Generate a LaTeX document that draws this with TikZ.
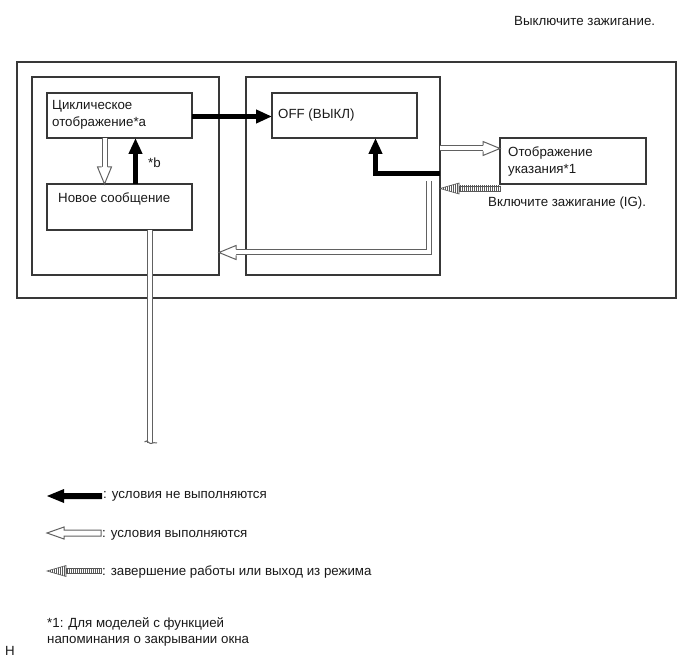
\documentclass[tikz,border=0pt]{standalone}
\usepackage{fontspec}
\setmainfont{Liberation Sans}
\usetikzlibrary{arrows.meta}
\tikzset{
  frame/.style={draw=black!78, line width=1.2pt, inner sep=0pt, outer sep=0pt, anchor=north west},
  lbl/.style={anchor=base west, inner sep=0pt, text=black!90},
  blk/.style={line width=5pt, draw=black, -{Triangle[length=16pt 0 0, width=13pt 0 0]}},
  hol/.style={draw=black!62, line width=1pt, double=white, double distance=4pt},
  hhead/.pic={\filldraw[fill=white, draw=black!62, line width=1pt]
     (-17,-3) -- (-17,-7) -- (0,0) -- (-17,7) -- (-17,3);},
  stripe/.pic={
     \fill[white] (0,0) -- (19,-5.5) -- (19,5.5) -- cycle;
     \begin{scope}
       \clip (19,-2.6) rectangle (#1,2.6);
       \foreach \i in {20,22,...,80} \draw[black!65, line width=0.6pt] (\i,-3) -- (\i,3);
     \end{scope}
     \draw[black!65, line width=0.6pt] (19,-2.6) rectangle (#1,2.6);
     \begin{scope}
       \clip (0,0) -- (19,-5.5) -- (19,5.5) -- cycle;
       \foreach \i in {1,3,...,21} \draw[black!65, line width=0.6pt] (\i,-6) -- (\i,6);
     \end{scope}
     \draw[black!65, line width=0.6pt] (0,0) -- (19,-5.5) -- (19,5.5) -- cycle;
  }
}
\begin{document}
\begin{tikzpicture}[x=1pt, y=-1pt, font=\fontsize{13.3}{18}\selectfont]
\useasboundingbox (0,0) rectangle (691,660);

% frames
\node[frame, minimum width=659pt, minimum height=236pt] (outer) at (17,62) {};
\node[frame, minimum width=187pt, minimum height=198pt] (lft) at (32,77) {};
\node[frame, minimum width=194pt, minimum height=198pt] (mid) at (246,77) {};
\node[frame, minimum width=145pt, minimum height=45pt] (cyc) at (47,93) {};
\node[frame, minimum width=145pt, minimum height=46pt] (new) at (47,184) {};
\node[frame, minimum width=145pt, minimum height=45pt] (off) at (272,93) {};
\node[frame, minimum width=146pt, minimum height=46pt] (ind) at (500,138) {};

% texts
\node[lbl] (t1) at (514,26) {Выключите зажигание.};
\node[lbl] (tc1) at (52,110) {Циклическое};
\node[lbl] (tc2) at (52,127) {отображение*a};
\node[lbl] (tn) at (58,203) {Новое сообщение};
\node[lbl] (to) at (278,119) {OFF (ВЫКЛ)};
\node[lbl] (ti1) at (508,157) {Отображение};
\node[lbl] (ti2) at (508,174) {указания*1};
\node[lbl] (tig) at (488,207) {Включите зажигание (IG).};
\node[lbl] (tb) at (148,168) {*b};

% black arrows
\draw[blk] ([yshift=-1pt]cyc.east) -- ([yshift=-1pt]off.west);
\draw[blk] ([xshift=88.5pt]new.north west) -- ([xshift=88.5pt]cyc.south west);
\draw[blk] ([yshift=2.5pt]mid.east) -| ([xshift=31pt]off.south);

% hollow arrows
\draw[hol, shorten >=17pt] ([xshift=57.5pt]cyc.south west) -- ([xshift=57.5pt]new.north west);
\pic[rotate=-90] at ([xshift=57.5pt]new.north west) {hhead};

\draw[hol, shorten >=17pt] ([yshift=27.5pt]mid.east) -- ([yshift=12.5pt]ind.west);
\pic at ([yshift=12.5pt]ind.west) {hhead};

\coordinate (hs) at (428.5,181);
\coordinate (hc) at (0,252.5);
\draw[hol, shorten >=17pt] (hs) |- (lft.east |- hc);
\pic[rotate=180] at (lft.east |- hc) {hhead};

\coordinate (brk) at (150,443);
\draw[hol] (new.south -| brk) -- (brk);
\draw[black!62, line width=1pt] (144.5,442) .. controls (147,439) and (149,444) .. (151,443.5) .. controls (153,443) and (155,442) .. (157,443);

% striped arrow
\pic at ([yshift=-12.5pt]mid.east) {stripe=60};

% legend
\coordinate (l1) at (47,496);
\fill[black] (l1) -- ++(17,-7) -- ++(0,4) -- ++(38,0) -- ++(0,6) -- ++(-38,0) -- ++(0,4) -- cycle;
\node[lbl] (lt1) at (103,498) {: условия не выполняются};

\coordinate (l2) at (47,533);
\filldraw[fill=white, draw=black!62, line width=1pt] (l2) -- ++(17,-6) -- ++(0,3) -- ++(37,0) -- ++(0,6) -- ++(-37,0) -- ++(0,3) -- cycle;
\node[lbl] (lt2) at (102,537) {: условия выполняются};

\pic at (47,571) {stripe=54};
\node[lbl] (lt3) at (102,575) {: завершение работы или выход из режима};

\node[lbl] (f1) at (47,627) {*1: Для моделей с функцией};
\node[lbl] (f2) at (47,643) {напоминания о закрывании окна};
\node[lbl] (hh) at (5,655) {Н};
\end{tikzpicture}
\end{document}
